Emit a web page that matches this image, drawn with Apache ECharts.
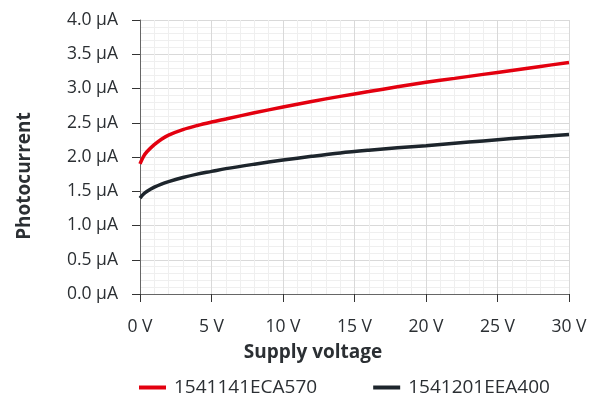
<!DOCTYPE html>
<html><head><meta charset="utf-8">
<script src="https://cdn.jsdelivr.net/npm/echarts@6/dist/echarts.min.js"></script>
<style>html,body{margin:0;padding:0;background:#fff}#c{width:590px;height:394px}</style>
</head><body><div id="c"></div>
<script>
const voltages = [0, 0.25, 0.5, 1, 1.5, 2, 3, 4, 5, 6, 8, 10, 12, 14, 16, 18, 20, 22, 24, 26, 28, 30];
const seriesA = [1.90, 2.01, 2.08, 2.18, 2.26, 2.32, 2.40, 2.46, 2.51, 2.555, 2.645, 2.73, 2.81, 2.885, 2.955, 3.025, 3.09, 3.148, 3.206, 3.264, 3.322, 3.38];
const seriesB = [1.40, 1.46, 1.50, 1.56, 1.605, 1.64, 1.70, 1.75, 1.79, 1.83, 1.895, 1.955, 2.01, 2.06, 2.10, 2.135, 2.165, 2.20, 2.235, 2.27, 2.30, 2.33];
const seriesNames = ['1541141ECA570', '1541201EEA400'];
const xTitle = 'Supply voltage';
const yTitle = 'Photocurrent';

const FONT = 'Open Sans';
const TXT = '#2b2f33';
const chart = echarts.init(document.getElementById('c'), null, {renderer: 'canvas'});
const pairs = (ys) => voltages.map((v, i) => [v, ys[i]]);
chart.setOption({
  animation: false,
  grid: {left: 140, right: 21, top: 20, bottom: 100, containLabel: false},
  xAxis: {
    type: 'value', min: 0, max: 30, interval: 5,
    axisLine: {show: true, lineStyle: {color: '#666', width: 1}},
    axisTick: {show: true, length: 8, lineStyle: {color: '#333'}},
    axisLabel: {margin: 24, color: TXT, fontSize: 17.5, fontFamily: FONT, formatter: v => v + ' V'},
    splitLine: {show: true, lineStyle: {color: '#d9d9d9', width: 1}},
    minorTick: {show: false, splitNumber: 5},
    minorSplitLine: {show: true, lineStyle: {color: '#efefef', width: 1}}
  },
  yAxis: {
    type: 'value', min: 0, max: 4, interval: 0.5,
    axisLine: {show: true, lineStyle: {color: '#666', width: 1}},
    axisTick: {show: true, length: 8, lineStyle: {color: '#333'}},
    axisLabel: {margin: 22, color: TXT, fontSize: 17.5, fontFamily: FONT, formatter: v => v.toFixed(1) + ' µA'},
    splitLine: {show: true, lineStyle: {color: '#d9d9d9', width: 1}},
    minorTick: {show: false, splitNumber: 5},
    minorSplitLine: {show: true, lineStyle: {color: '#efefef', width: 1}}
  },
  legend: {
    top: 378, left: 139, padding: 0, itemWidth: 27, itemHeight: 4, itemGap: 56,
    icon: 'rect',
    textStyle: {color: TXT, fontSize: 19, fontFamily: FONT, padding: [0, 0, 0, 3]},
    data: seriesNames
  },
  graphic: [
    {type: 'text', x: 25, y: 176, rotation: Math.PI / 2,
     style: {text: yTitle, fill: TXT, font: 'bold 19px "' + FONT + '"', align: 'center', verticalAlign: 'middle'}},
    {type: 'text', x: 313, y: 353,
     style: {text: xTitle, fill: TXT, font: 'bold 19px "' + FONT + '"', align: 'center', verticalAlign: 'middle'}}
  ],
  series: [
    {name: seriesNames[0], type: 'line', smooth: 0.35, showSymbol: false, symbol: 'none',
     data: pairs(seriesA), lineStyle: {color: '#e3000f', width: 3.5}, itemStyle: {color: '#e3000f'}},
    {name: seriesNames[1], type: 'line', smooth: 0.35, showSymbol: false, symbol: 'none',
     data: pairs(seriesB), lineStyle: {color: '#1d252c', width: 3.5}, itemStyle: {color: '#1d252c'}}
  ]
});
</script></body></html>
